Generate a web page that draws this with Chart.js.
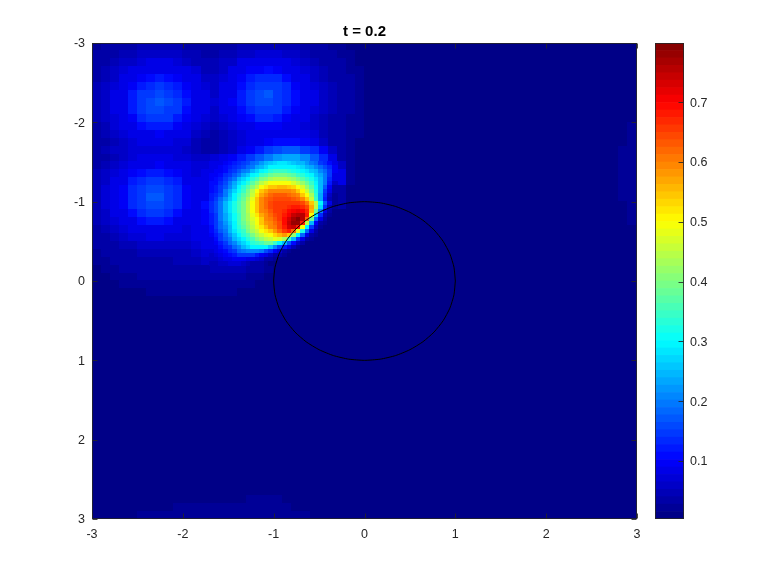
<!DOCTYPE html>
<html><head><meta charset="utf-8">
<style>html,body{margin:0;padding:0;background:#fff}canvas{position:absolute;left:0;top:0}</style>
<script src="https://cdn.jsdelivr.net/npm/chart.js@4"></script></head>
<body><canvas id="main" width="778" height="584"></canvas><canvas id="bar" width="778" height="584"></canvas>
<script>
const titleText = 't = 0.2';
const axisTicks = [-3,-2,-1,0,1,2,3];
const barTicks = [0.1,0.2,0.3,0.4,0.5,0.6,0.7];
const valueMin = 0.003, valueMax = 0.799;
const cellStep = 0.1, fineStep = 0.05;
const gridSize = 60;
const floorValue = 1; // hundredths
// values in hundredths, top-left block of the 0.1 grid (row = y from -3, col = x from -3)
const heatRows = [
[2,3,3,4,4,5,5,5,5,5,4,4,3,3,4,4,5,5,5,5,5,5,5,4,4,3,2,2,1,1,1,1],
[3,4,4,5,5,6,6,6,6,6,5,5,4,4,5,5,6,6,7,7,7,6,6,5,4,4,3,2,2,1,1,1],
[4,4,5,6,6,7,8,8,8,7,6,5,5,5,6,6,8,8,8,8,8,8,7,6,5,4,3,3,2,1,1,1],
[4,5,6,7,8,8,9,9,9,8,8,7,5,5,6,8,8,10,10,11,10,9,8,7,6,5,4,3,2,2,1,1],
[4,5,6,8,9,10,11,12,11,10,8,8,6,6,7,8,10,12,13,13,13,11,9,8,6,5,4,3,3,2,1,1],
[5,6,7,8,10,12,13,14,13,12,10,8,7,6,8,9,11,13,15,15,14,13,10,8,7,6,5,4,3,2,1,1],
[5,6,8,9,12,14,15,16,15,13,11,9,8,6,8,9,12,14,16,17,15,13,11,9,8,6,5,4,3,2,1,1],
[5,6,8,9,12,14,16,17,16,14,12,9,8,7,8,10,12,14,16,16,15,13,11,9,8,6,5,4,3,2,1,1],
[5,6,8,9,12,14,16,16,15,14,11,9,8,6,8,9,11,13,15,15,14,12,10,8,7,6,5,4,3,2,1,1],
[5,6,7,8,10,13,14,14,14,12,10,8,7,6,7,8,10,11,13,13,12,10,9,8,6,5,4,3,2,2,1,1],
[4,5,7,8,9,11,12,12,12,10,9,7,6,5,6,7,8,9,10,10,10,9,8,7,6,5,4,3,2,2,1,1],
[4,5,6,7,8,9,9,10,9,8,8,6,5,4,5,6,7,8,8,9,9,9,8,8,7,5,4,3,2,2,1,1],
[3,4,5,6,7,8,8,8,8,7,7,5,4,3,5,6,7,8,9,10,11,11,11,10,8,6,4,3,2,1,1,1],
[4,5,6,6,7,7,7,7,7,7,6,5,4,4,5,6,8,10,12,15,16,17,17,15,13,10,6,4,2,1,1,1],
[3,4,5,6,7,8,8,8,8,7,7,6,6,7,9,10,12,14,17,20,22,23,23,21,17,13,8,4,2,1,1,1],
[4,5,6,7,8,9,9,10,9,9,8,7,7,8,10,12,15,19,23,26,28,28,27,24,20,15,10,6,2,1,1,1],
[5,6,7,8,10,11,12,12,11,10,8,7,8,9,11,14,19,26,31,34,36,36,36,33,28,23,16,8,2,1,1,1],
[5,6,8,9,12,13,14,14,13,12,9,8,8,9,12,17,25,33,40,45,48,48,46,42,36,28,20,8,2,1,1,1],
[5,7,8,10,13,15,16,16,15,13,10,8,9,10,13,20,30,40,50,57,60,60,58,52,42,28,13,4,1,1,1,1],
[5,7,8,10,13,15,17,17,15,13,10,9,9,11,16,26,36,47,57,63,65,66,65,60,50,30,12,3,1,1,1,1],
[5,7,8,10,13,14,16,16,14,13,10,9,11,15,23,33,42,50,60,66,66,68,67,64,55,28,10,3,1,1,1,1],
[5,6,8,9,11,13,14,14,13,11,9,9,10,15,23,33,42,50,60,65,67,70,74,72,50,18,4,1,1,1,1,1],
[5,6,7,8,9,11,12,12,11,9,8,8,10,14,22,31,40,48,58,63,67,72,79,60,25,8,2,1,1,1,1,1],
[4,5,6,7,8,8,9,9,8,8,7,8,9,13,20,28,38,45,52,58,63,68,60,30,8,2,1,1,1,1,1,1],
[3,4,5,6,7,7,8,8,7,7,7,8,9,12,17,25,30,38,42,46,48,45,25,10,3,1,1,1,1,1,1,1],
[3,4,4,5,5,6,6,6,6,6,6,7,8,10,13,18,24,30,32,33,26,15,7,2,1,1,1,1,1,1,1,1],
[2,3,3,4,4,5,5,5,5,5,5,6,7,8,10,13,15,17,17,13,8,4,2,1,1,1,1,1,1,1,1,1],
[2,2,3,3,4,4,4,4,4,5,5,5,6,7,8,9,10,9,7,4,2,1,1,1,1,1,1,1,1,1,1,1],
[1,2,2,3,3,3,4,4,4,4,4,4,4,5,5,5,5,4,3,2,1,1,1,1,1,1,1,1,1,1,1,1],
[1,1,2,2,2,3,3,3,3,3,3,3,3,3,3,3,3,2,2,1,1,1,1,1,1,1,1,1,1,1,1,1],
[1,1,1,2,2,2,2,2,2,2,2,2,2,2,2,2,2,2,1,1,1,1,1,1,1,1,1,1,1,1,1,1],
[1,1,1,1,1,1,2,2,2,2,2,2,2,2,2,2,1,1,1,1,1,1,1,1,1,1,1,1,1,1,1,1]
];
// finer 0.05 grid over the hot spot: x from -1.70, y from -1.50
const fineX0 = -1.7, fineY0 = -1.5;
const fineRows = [
[8,8,9,10,11,12,13,14,16,18,20,22,24,26,27,28,28,27,26,25,24,22,20,18,15,13,11,9],
[9,9,10,11,12,13,15,16,18,20,23,25,27,29,30,30,30,30,29,28,27,25,23,21,18,16,13,10],
[9,10,10,11,13,15,17,19,21,24,27,29,31,33,34,34,34,33,32,31,30,28,26,24,21,18,14,10],
[10,10,11,13,15,17,20,23,26,29,31,34,36,38,39,39,39,38,37,35,33,31,29,26,23,19,14,9],
[10,11,12,14,17,20,24,27,30,33,36,39,41,43,44,45,44,43,42,40,37,35,32,28,24,19,13,8],
[11,11,13,16,19,23,27,30,33,37,41,44,47,49,50,50,50,49,47,45,42,38,34,30,25,19,12,6],
[11,12,14,17,21,25,29,33,37,41,45,49,52,54,55,56,56,55,53,50,47,42,37,31,24,17,10,4],
[11,12,15,19,23,27,31,35,39,44,49,54,57,59,60,60,60,59,58,55,51,46,40,32,24,15,8,3],
[12,13,16,20,24,29,33,37,41,46,52,57,60,62,63,63,63,62,61,59,55,50,43,33,23,13,6,2],
[12,14,18,22,26,30,34,38,43,48,54,59,62,63,64,64,64,64,63,62,59,54,46,35,23,12,5,2],
[13,16,20,25,28,32,36,40,44,49,55,60,62,64,65,65,66,66,66,65,64,61,55,45,30,17,8,2],
[13,16,20,25,28,32,36,40,44,49,55,60,62,64,65,65,66,67,68,68,67,64,57,44,27,13,5,2],
[13,16,20,24,28,32,36,40,44,49,54,59,61,63,65,65,67,69,71,72,71,67,56,38,21,9,3,1],
[12,15,19,23,27,31,35,39,43,48,52,57,60,62,64,65,68,71,74,76,75,68,50,28,13,5,2,1],
[12,15,19,23,27,31,35,39,43,47,50,55,59,61,63,65,69,73,77,79,76,62,38,18,8,3,1,1],
[12,14,18,22,26,30,34,38,42,46,49,54,58,60,62,64,69,74,78,78,68,45,24,10,4,2,1,1],
[11,14,18,21,25,29,33,37,41,45,48,52,56,59,61,64,68,73,74,68,50,30,14,6,2,1,1,1],
[11,13,17,20,24,28,32,35,39,43,46,49,52,55,58,62,66,68,62,48,32,18,8,3,1,1,1,1],
[10,12,15,18,22,26,30,33,36,40,43,46,48,50,53,56,58,54,42,30,18,9,4,2,1,1,1,1],
[9,11,14,17,20,24,27,30,33,36,39,42,44,46,48,47,43,34,24,15,8,4,2,1,1,1,1,1],
[9,10,12,15,18,21,24,27,30,33,35,36,38,38,35,30,24,17,11,6,3,1,1,1,1,1,1,1],
[8,9,11,13,15,18,21,24,27,29,30,30,29,26,21,16,12,8,5,2,1,1,1,1,1,1,1,1],
[7,8,10,11,13,15,18,20,21,21,21,19,16,13,10,7,4,2,1,1,1,1,1,1,1,1,1,1],
[6,7,8,10,11,12,14,15,15,14,12,10,8,6,4,3,2,1,1,1,1,1,1,1,1,1,1,1],
[6,6,7,8,9,10,10,10,9,8,7,6,4,3,2,1,1,1,1,1,1,1,1,1,1,1,1,1],
[5,5,6,6,7,7,7,6,5,4,4,3,2,1,1,1,1,1,1,1,1,1,1,1,1,1,1,1]
];
// faint patches elsewhere: [row, firstCol, lastCol, value]
const faintPatches = [
[59,5,23,2],[58,9,21,2],[57,17,20,2],
[10,59,59,2],[11,59,59,2],[12,59,59,2],[13,58,59,2],[14,58,59,2],[15,58,59,2],[16,58,59,2],[17,58,59,2],[18,58,59,2],[19,58,59,2],[20,59,59,2],[21,59,59,2],[22,59,59,2]
];
const circleX = [1,.985,.94,.866,.766,.643,.5,.342,.174,0,-.174,-.342,-.5,-.643,-.766,-.866,-.94,-.985,-1,-.985,-.94,-.866,-.766,-.643,-.5,-.342,-.174,0,.174,.342,.5,.643,.766,.866,.94,.985,1];
const circleY = [0,.174,.342,.5,.643,.766,.866,.94,.985,1,.985,.94,.866,.766,.643,.5,.342,.174,0,-.174,-.342,-.5,-.643,-.766,-.866,-.94,-.985,-1,-.985,-.94,-.866,-.766,-.643,-.5,-.342,-.174,0];

function jet(i){ // 64-level jet colormap
  const t=(i+0.5)/64;
  const f=c=>Math.round(255*Math.max(0,Math.min(1,1.5-Math.abs(4*t-c))));
  return `rgb(${f(3)},${f(2)},${f(1)})`;
}
const jetColors=Array.from({length:64},(_,i)=>jet(i));
const levelOf=v=>Math.max(0,Math.min(63,Math.floor((v-valueMin)/(valueMax-valueMin)*64)));
const stamps={};
function stamp(level,w,h){
  const key=level+'_'+w;
  if(!stamps[key]){const c=document.createElement('canvas');c.width=w;c.height=h;
    const g=c.getContext('2d');g.fillStyle=jetColors[level];g.fillRect(0,0,w,h);stamps[key]=c;}
  return stamps[key];
}
const cells=[];
const patchAt=(r,c)=>{const p=faintPatches.find(p=>p[0]===r&&c>=p[1]&&c<=p[2]);return p?p[3]:null;};
for(let r=0;r<gridSize;r++)for(let c=0;c<gridSize;c++){
  let v=heatRows[r]&&heatRows[r][c]!==undefined?heatRows[r][c]:(patchAt(r,c)??floorValue);
  cells.push({x:-3+cellStep*(c+.5),y:-3+cellStep*(r+.5),v:v/100});
}
const fineCells=[];
fineRows.forEach((row,r)=>row.forEach((v,c)=>fineCells.push({x:fineX0+fineStep*(c+.5),y:fineY0+fineStep*(r+.5),v:v/100})));
const inkColor='#262626';
const frame={id:'frame',afterDatasetsDraw(ch){
  const a=ch.chartArea,g=ch.ctx;g.save();g.strokeStyle=inkColor;g.lineWidth=1;g.globalAlpha=.85;
  const L=Math.round(a.left)+.5,R=Math.round(a.right)-.5,T=Math.round(a.top)+.5,B=Math.round(a.bottom)-.5;
  g.strokeRect(L,T,R-L,B-T);
  g.beginPath();
  const len=5;
  if(ch.canvas.id==='main'){ch.scales.x.ticks.forEach(t=>{const x=Math.round(ch.scales.x.getPixelForValue(t.value))+.5;g.moveTo(x,T);g.lineTo(x,T+len);g.moveTo(x,B);g.lineTo(x,B-len);});}
  ch.scales.y.ticks.forEach(t=>{const y=Math.round(ch.scales.y.getPixelForValue(t.value))+.5;
    if(ch.canvas.id==='main'){g.moveTo(L,y);g.lineTo(L+len,y);}
    g.moveTo(R,y);g.lineTo(R-len,y);});
  g.stroke();g.restore();
}};
const tickFont={family:'"Liberation Sans",Arial,sans-serif',size:12.5};
new Chart(document.getElementById('main'),{
  type:'scatter',
  plugins:[frame],
  data:{datasets:[
    {label:'circle',order:0,showLine:true,data:circleX.map((x,i)=>({x,y:circleY[i]})),borderColor:'#000',borderWidth:1,pointRadius:0,fill:false,tension:.2},
    {label:'fine',order:1,data:fineCells,showLine:false,pointRadius:3,pointHoverRadius:3,
     pointStyle:c=>stamp(levelOf(c.raw?c.raw.v:0),6,5),backgroundColor:'transparent',borderWidth:0},
    {label:'u',order:2,data:cells,showLine:false,pointRadius:5,pointHoverRadius:5,
     pointStyle:c=>stamp(levelOf(c.raw?c.raw.v:0),10,9),backgroundColor:'transparent',borderWidth:0}
  ]},
  options:{
    responsive:false,animation:false,events:[],
    layout:{padding:{left:0,right:141,top:0,bottom:0}},
    plugins:{legend:{display:false},tooltip:{enabled:false},
      title:{display:true,fullSize:false,text:titleText,color:'#000',font:{family:tickFont.family,size:15,weight:'bold'},padding:{top:23,bottom:2}}},
    scales:{
      x:{type:'linear',min:-3,max:3,grid:{display:false,drawTicks:false},border:{display:false},
         afterBuildTicks:s=>{s.ticks=axisTicks.map(value=>({value}));},
         afterFit:s=>{s.height=65;},
         ticks:{color:inkColor,font:tickFont,padding:8,autoSkip:false,maxRotation:0}},
      y:{type:'linear',reverse:true,min:-3,max:3,grid:{display:false,drawTicks:false},border:{display:false},
         afterBuildTicks:s=>{s.ticks=axisTicks.map(value=>({value}));},
         afterFit:s=>{s.width=92;},
         ticks:{color:inkColor,font:tickFont,padding:7,autoSkip:false,labelOffset:1}}
    }
  }
});
const bands=jetColors.map((color,i)=>({
  data:[[valueMin+(valueMax-valueMin)*i/64,valueMin+(valueMax-valueMin)*(i+1)/64]],
  backgroundColor:color,borderWidth:0,barPercentage:1,categoryPercentage:1
}));
new Chart(document.getElementById('bar'),{
  type:'bar',
  plugins:[frame],
  data:{labels:['u'],datasets:bands},
  options:{
    responsive:false,animation:false,events:[],
    layout:{padding:{left:655,right:0,top:43,bottom:65}},
    plugins:{legend:{display:false},tooltip:{enabled:false},title:{display:false}},
    scales:{
      x:{display:false,stacked:true},
      y:{position:'right',min:valueMin,max:valueMax,grid:{display:false,drawTicks:false},border:{display:false},
         afterBuildTicks:s=>{s.ticks=barTicks.map(value=>({value}));},
         afterFit:s=>{s.width=94;},
         ticks:{color:inkColor,font:tickFont,padding:6,autoSkip:false,labelOffset:1,callback:v=>Number(v).toFixed(1)}}
    }
  }
});
</script></body></html>
